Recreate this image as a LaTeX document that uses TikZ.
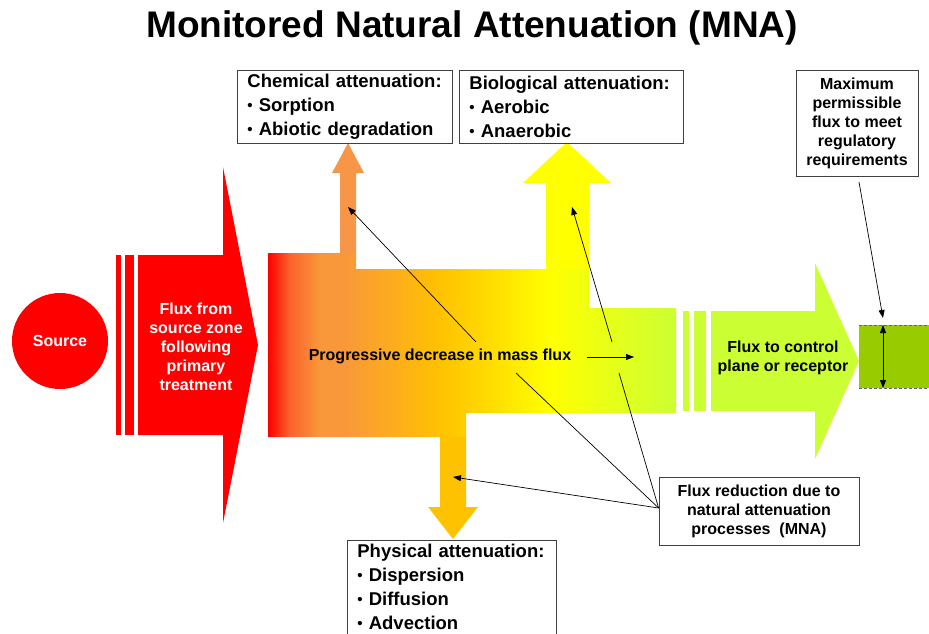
\documentclass[tikz,border=0pt]{standalone}
\usepackage{fontspec}
\setmainfont{Liberation Sans}
\usetikzlibrary{arrows.meta,calc,positioning}

\definecolor{fluxred}{RGB}{255,0,0}
\definecolor{fluxredorange}{RGB}{250,100,45}
\definecolor{fluxorange}{RGB}{249,152,58}
\definecolor{chemorange}{RGB}{247,150,70}
\definecolor{physgold}{RGB}{255,194,0}
\definecolor{fluxgold}{RGB}{255,212,0}
\definecolor{bioyellow}{RGB}{255,255,0}
\definecolor{fluxlime}{RGB}{204,255,51}
\definecolor{planegreen}{RGB}{153,204,0}

% colour run of the main flux band, left to right
\pgfdeclarehorizontalshading{massflux}{100bp}{color(0bp)=(fluxred); color(25bp)=(fluxred);
  color(27.7bp)=(fluxredorange); color(31.4bp)=(fluxorange); color(34.4bp)=(fluxorange);
  color(46.1bp)=(physgold); color(50.4bp)=(fluxgold); color(59.6bp)=(bioyellow);
  color(75bp)=(fluxlime); color(100bp)=(fluxlime)}

\newcommand{\dotitem}{\raisebox{1pt}{\fontsize{15}{15}\selectfont\textbullet}\ }

\tikzset{
  lbl/.style={font=\bfseries\fontsize{16}{19}\selectfont, align=center, inner sep=0pt},
  attbox/.style={draw=black!75, line width=0.8pt, fill=white, anchor=north west, align=left,
    inner xsep=10pt, inner ysep=4pt, font=\bfseries\fontsize{18.5}{24}\selectfont},
  notebox/.style={draw=black!75, line width=0.8pt, fill=white, align=center,
    font=\bfseries\fontsize{16}{19}\selectfont},
  conn/.style={line width=0.7pt, black},
  pointer/.style={conn, -{Triangle[length=8pt,width=6pt]}}
}

\begin{document}
\begin{tikzpicture}[x=1pt, y=-1pt]
    \useasboundingbox (0,0) rectangle (929,634);

    \node[font=\bfseries\fontsize{37}{44}\selectfont] (title) at (472,28) {Monitored Natural Attenuation (MNA)};

    % Source and first flux arrow
    \node[circle, fill=fluxred, minimum size=96pt, inner sep=0pt, text=white,
      font=\bfseries\fontsize{16}{19}\selectfont] (source) at (60,341) {Source};
    \foreach \xa/\xb in {116/121,125/134} {
      \fill[fluxred] (\xa,255) rectangle (\xb,435);
    }
    \fill[fluxred] (138,255) -- (223,255) -- (223,167) -- (258,345) -- (223,523) -- (223,435) -- (138,435) -- cycle;
    \node[lbl, text=white] (primary) at (196,347) {Flux from\\source zone\\following\\primary\\treatment};

    % Main band with the three branch arrows
    \shade[shading=massflux] (268,253) -- (356,253) -- (356,269) -- (589,269) -- (589,308) -- (676,308)
      -- (676,413) -- (466,413) -- (466,437) -- (268,437) -- cycle;
    \fill[chemorange] (340,253) -- (340,173) -- (332,173) -- (348,143) -- (364,173) -- (356,173) -- (356,253) -- cycle;
    \fill[bioyellow] (546,269) -- (546,183) -- (523,183) -- (567,142) -- (611,183) -- (589,183) -- (589,269) -- cycle;
    \fill[physgold] (440,437) -- (440,507) -- (428,507) -- (453,539) -- (478,507) -- (466,507) -- (466,437) -- cycle;
    \node[lbl] (progress) at (440,356) {Progressive decrease in mass flux};

    % Flux leaving towards the control plane
    \foreach \xa/\xb in {683/689,694/706} {
      \fill[fluxlime] (\xa,311) rectangle (\xb,411);
    }
    \fill[fluxlime] (711,311) -- (815,311) -- (815,263) -- (859,361) -- (815,459) -- (815,411) -- (711,411) -- cycle;
    \node[lbl] (control) at (783,358) {Flux to control\\plane or receptor};

    % Control plane
    \fill[planegreen] (859,325) rectangle (935,388);
    \draw[black!60, line width=0.8pt, dash pattern=on 3pt off 2pt] (859,325) -- (935,325) (859,388) -- (935,388);
    \coordinate (planetop) at (883,325);
    \coordinate (planebot) at (883,388);
    \draw[conn, {Triangle[length=8pt,width=6pt]}-{Triangle[length=8pt,width=6pt]}] (planetop) -- (planebot);

    % Text boxes
    \node[attbox, text width=195pt, minimum height=73pt] (chem) at (237,70) {Chemical attenuation:\\\dotitem Sorption\\\dotitem Abiotic degradation};
    \node[attbox, text width=204pt, minimum height=73pt] (bio) at (459,70) {Biological attenuation:\\\dotitem Aerobic\\\dotitem Anaerobic};
    \node[attbox, text width=189pt] (phys) at (347,540) {Physical attenuation:\\\dotitem Dispersion\\\dotitem Diffusion\\\dotitem Advection\strut};
    \node[notebox, minimum width=122pt, minimum height=106pt] (maxflux) at (857,123) {Maximum\\permissible\\flux to meet\\regulatory\\requirements};
    \node[notebox, minimum width=200pt, minimum height=68pt] (reduce) at (759,511) {Flux reduction due to\\natural attenuation\\processes\ \ (MNA)};

    % Connectors
    \coordinate (chemaim) at (348,207);
    \coordinate (bioaim) at (572,207);
    \coordinate (physaim) at (453,477);
    \coordinate (progup) at (476,342);
    \coordinate (progbio) at (612,342);
    \coordinate (progfrom) at (587,357);
    \coordinate (progto) at (634,357);
    \coordinate (lowleft) at (516,373);
    \coordinate (lowright) at (619,373);
    \coordinate (reducein) at ([yshift=3pt]reduce.west);
    \coordinate (maxfrom) at (859,182);
    \coordinate (maxaim) at (883,318);

    \draw[pointer] (progup) -- (chemaim);
    \draw[pointer] (progbio) -- (bioaim);
    \draw[pointer] (progfrom) -- (progto);
    \draw[conn] (reducein) -- (lowleft);
    \draw[conn] (reducein) -- (lowright);
    \draw[pointer] (reducein) -- (physaim);
    \draw[pointer] (maxfrom) -- (maxaim);
\end{tikzpicture}
\end{document}
